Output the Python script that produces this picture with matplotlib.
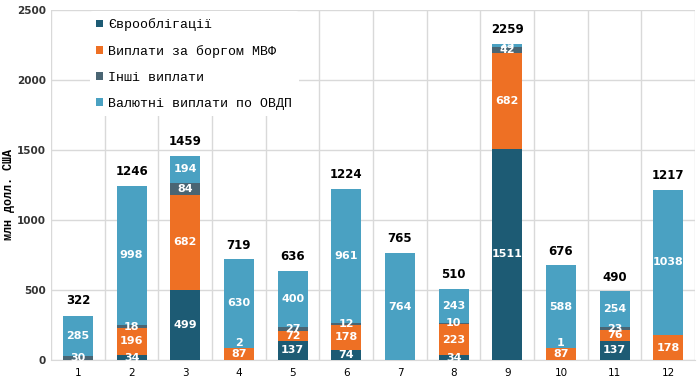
import matplotlib
matplotlib.use("Agg")
import matplotlib.pyplot as plt
import numpy as np

# === Data ===
months = ["1", "2", "3", "4", "5", "6", "7", "8", "9", "10", "11", "12"]
euro = [0, 34, 499, 0, 137, 74, 0, 34, 1511, 0, 137, 0]
imf = [0, 196, 682, 87, 72, 178, 0, 223, 682, 87, 76, 178]
other = [30, 18, 84, 2, 27, 12, 0, 10, 42, 1, 23, 0]
ovdp = [285, 998, 194, 630, 400, 961, 764, 243, 25, 588, 254, 1038]
totals = [322, 1246, 1459, 719, 636, 1224, 765, 510, 2259, 676, 490, 1217]

series_names = ["Єврооблігації", "Виплати за боргом МВФ", "Інші виплати",
                "Валютні виплати по ОВДП"]
colors = ["#1d5b74", "#ee7024", "#4a6573", "#4aa1c2"]

fig = plt.figure(figsize=(7, 3.9), dpi=100)
ax = fig.add_axes([0.073, 0.077, 0.92, 0.897])

x = np.arange(len(months))
width = 0.56
bottom = np.zeros(len(months))
for vals, name, col in zip([euro, imf, other, ovdp], series_names, colors):
    vals = np.array(vals, dtype=float)
    ax.bar(x, vals, width, bottom=bottom, color=col, label=name, zorder=3)
    for xi, b, v in zip(x, bottom, vals):
        if v <= 0:
            continue
        # tiny segments: label sits just above the sliver
        ypos = b + v + 35 if v < 5 else b + v / 2
        ax.text(xi, ypos, f"{v:.0f}", ha="center", va="center",
                color="white", fontsize=8, fontweight="bold", zorder=4)
    bottom += vals

for xi, t in zip(x, totals):
    ax.text(xi, t + 55, str(t), ha="center", va="bottom", fontsize=8.5,
            fontweight="bold", color="black", zorder=4)

ax.set_xlim(-0.5, len(months) - 0.5)
ax.set_ylim(0, 2500)
ax.set_yticks(np.arange(0, 2501, 500))
ax.set_xticks(x)
ax.set_xticklabels(months)
ax.set_xticks(np.arange(-0.5, len(months), 1), minor=True)
ax.tick_params(axis="both", which="both", length=0, labelsize=7.5)
ax.tick_params(axis="x", which="major", pad=6)
for lab in ax.get_yticklabels():
    lab.set_fontweight("bold")
    lab.set_color("#333333")

ax.grid(axis="y", which="major", color="#d9d9d9", linewidth=1, zorder=0)
ax.grid(axis="x", which="minor", color="#d9d9d9", linewidth=1, zorder=0)
for s in ["top", "right", "left"]:
    ax.spines[s].set_visible(False)
ax.spines["bottom"].set_color("#d9d9d9")

fig.text(0.013, 0.5, "млн долл. США", rotation=90, ha="center", va="center",
         fontsize=8.5, fontweight="bold", family="Liberation Mono")

leg = ax.legend(loc="upper left", bbox_to_anchor=(0.05, 1.015), frameon=True,
                framealpha=1, edgecolor="none", handlelength=0.5, handleheight=0.5,
                handletextpad=0.4, labelspacing=1.05, borderpad=0.5,
                prop={"family": "Liberation Mono", "size": 9.5})
leg.set_zorder(5)

plt.savefig("out.png", dpi=100, facecolor="white")
plt.close()
